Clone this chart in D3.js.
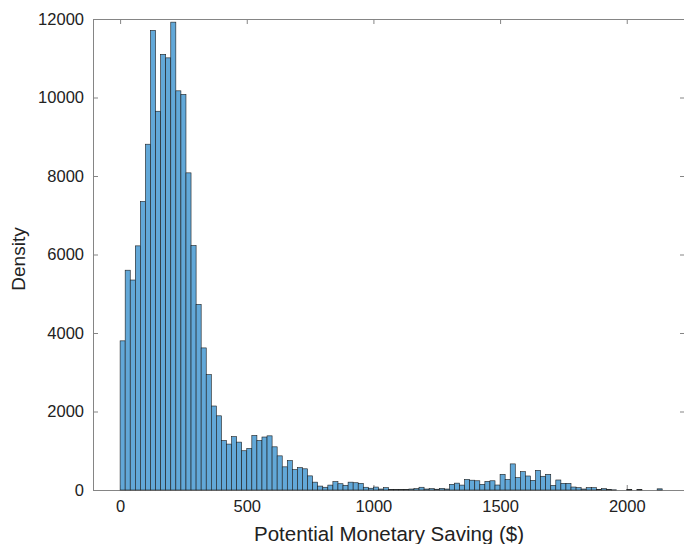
<!DOCTYPE html>
<html>
<head>
<meta charset="utf-8">
<script src="https://cdn.jsdelivr.net/npm/d3@7"></script>
<style>
  body { margin: 0; background: #fff; }
  svg text { font-family: "Liberation Sans", Arial, Helvetica, sans-serif; fill: #222; }
</style>
</head>
<body>
<svg id="chart" width="684" height="544"></svg>
<script>
// histogram bins: 20-wide, starting at 0
const binWidth = 20
const binCounts = [
  3800, 5600, 5350, 6220, 7350, 8810, 11710, 9650, 11100, 11010,
  11920, 10170, 10080, 8080, 6230, 4730, 3620, 2940, 2140, 1890,
  1260, 1170, 1360, 1220, 1000, 1060, 1390, 1260, 1350, 1380,
  1100, 870, 590, 750, 520, 570, 540, 360, 200, 100,
  70, 125, 215, 160, 120, 200, 185, 170, 70, 45,
  75, 25, 60, 15, 10, 10, 10, 25, 35, 70,
  25, 35, 20, 42, 25, 145, 175, 125, 270, 250,
  235, 145, 220, 235, 127, 400, 268, 665, 314, 467,
  357, 246, 501, 350, 400, 119, 255, 170, 170, 76,
  59, 25, 59, 59, 17, 34, 17, 5, 0, 0,
  10, 0, 10, 0, 0, 0, 30
]
const xTicks = [0, 500, 1000, 1500, 2000]
const yTicks = [0, 2000, 4000, 6000, 8000, 10000, 12000]

const bins = binCounts.map((c, i) => ({ x0: i * binWidth, x1: (i + 1) * binWidth, count: c }))

const mLeft = 93, mRight = 685, mTop = 19, mBottom = 490

const x = d3.scaleLinear().domain([-107, 2230]).range([mLeft, mRight])
const y = d3.scaleLinear().domain([0, 12000]).range([mBottom, mTop])

const svg = d3.select("#chart")
const axisColor = "#858585"
const fmt = d3.format("d")

// box lines + inward ticks
const xAxis = d3.axisBottom(x).tickValues(xTicks).tickFormat(fmt).tickSizeInner(-5).tickSizeOuter(0).tickPadding(10)
const yAxis = d3.axisLeft(y).tickValues(yTicks).tickFormat(fmt).tickSizeInner(-5).tickSizeOuter(0).tickPadding(9)

svg.append("g").attr("transform", "translate(0," + mBottom + ")").call(xAxis)
svg.append("g").attr("transform", "translate(" + mLeft + ",0)").call(yAxis)

svg.append("g").attr("transform", "translate(0," + mTop + ")")
   .call(d3.axisTop(x).tickValues(xTicks).tickSizeInner(-5).tickSizeOuter(0).tickFormat(""))
svg.append("g").attr("transform", "translate(" + mRight + ",0)")
   .call(d3.axisRight(y).tickValues(yTicks).tickSizeInner(-5).tickSizeOuter(0).tickFormat(""))

svg.selectAll(".domain, .tick line").attr("stroke", axisColor)
svg.selectAll(".tick text").attr("font-size", 16.5).attr("fill", "#222")

// bars
svg.append("g")
   .selectAll("rect")
   .data(bins.filter(d => d.count > 0))
   .join("rect")
   .attr("x", d => x(d.x0))
   .attr("width", d => x(d.x1) - x(d.x0))
   .attr("y", d => y(d.count))
   .attr("height", d => y(0) - y(d.count))
   .attr("fill", "#62a8d8")
   .attr("stroke", "#1c1c1c")
   .attr("stroke-width", 0.6)

// axis labels
svg.append("text")
   .attr("x", (mLeft + mRight) / 2)
   .attr("y", 541)
   .attr("text-anchor", "middle")
   .attr("font-size", 20.5)
   .text("Potential Monetary Saving ($)")

svg.append("text")
   .attr("transform", "translate(25,259) rotate(-90)")
   .attr("text-anchor", "middle")
   .attr("font-size", 19)
   .text("Density")
</script>
</body>
</html>
